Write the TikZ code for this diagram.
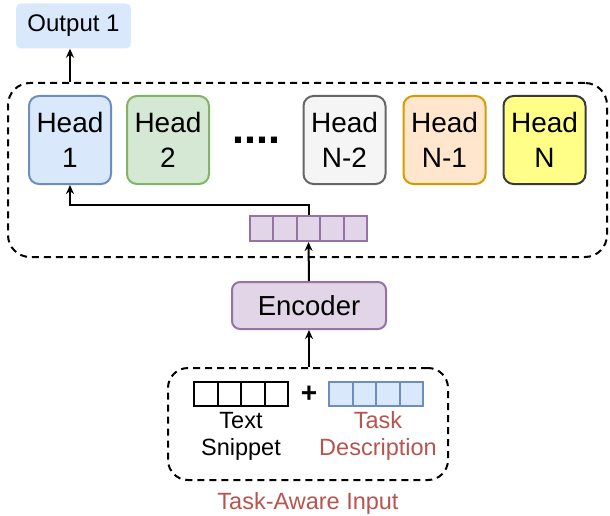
\documentclass[tikz,border=0pt]{standalone}
\usepackage{fontspec}
\setmainfont{Liberation Sans}
\usetikzlibrary{arrows.meta}
\definecolor{bluef}{HTML}{DAE8FC}\definecolor{blues}{HTML}{6C8EBF}
\definecolor{greenf}{HTML}{D5E8D4}\definecolor{greens}{HTML}{82B366}
\definecolor{grayf}{HTML}{F5F5F5}\definecolor{grays}{HTML}{666666}
\definecolor{orangef}{HTML}{FFE6CC}\definecolor{oranges}{HTML}{D79B00}
\definecolor{yellowf}{HTML}{FFFF88}\definecolor{yellows}{HTML}{36393D}
\definecolor{purplef}{HTML}{E1D5E7}\definecolor{purples}{HTML}{9673A6}
\definecolor{redtext}{HTML}{B85450}
\begin{document}
\begin{tikzpicture}[x=1pt,y=-1pt,
  headbox/.style={draw, line width=2pt, rounded corners=10pt, minimum width=82pt, minimum height=88pt, align=center, inner sep=0pt, font=\fontsize{28}{35}\selectfont},
  dashbox/.style={draw, line width=2pt, dash pattern=on 7pt off 5pt, rounded corners=22pt, inner sep=0pt},
  vcell/.style={draw=purples, fill=purplef, line width=2pt, minimum width=23.4pt, minimum height=25pt, inner sep=0pt},
  tcell/.style={draw=black, line width=2pt, minimum width=23.5pt, minimum height=24pt, inner sep=0pt},
  dcell/.style={draw=blues, fill=bluef, line width=2pt, minimum width=23.5pt, minimum height=24pt, inner sep=0pt},
  arr/.style={line width=2pt, -{Stealth[length=9pt,width=8pt]}},
  lbl/.style={font=\fontsize{23.5}{27}\selectfont, align=center, inner sep=0pt}
]
\useasboundingbox (0,0) rectangle (610,516);
% outer dashed container
\node[dashbox, minimum width=599pt, minimum height=174pt] (outer) at (307.5,170) {};
% output
\node[fill=bluef, rounded corners=5pt, minimum width=115pt, minimum height=45pt, inner sep=0pt, font=\fontsize{24}{28}\selectfont] (out) at (73.5,26) {Output 1};
% heads
\node[headbox, draw=blues, fill=bluef] (h1) at (70,140) {Head\\1};
\node[headbox, draw=greens, fill=greenf] (h2) at (168,140) {Head\\2};
\node[headbox, draw=grays, fill=grayf] (hn2) at (344.5,140) {Head\\N-2};
\node[headbox, draw=oranges, fill=orangef] (hn1) at (444.5,140) {Head\\N-1};
\node[headbox, draw=yellows, fill=yellowf] (hn) at (544.5,140) {Head\\N};
\node[font=\fontsize{43}{43}\selectfont\bfseries, anchor=base, inner sep=0pt] (dots) at (256.5,143) {....};
% vector
\node[vcell] (v1) at (261.7,228.5) {};
\node[vcell] (v2) at (285.1,228.5) {};
\node[vcell] (v3) at (308.5,228.5) {};
\node[vcell] (v4) at (331.9,228.5) {};
\node[vcell] (v5) at (355.3,228.5) {};
% encoder
\node[draw=purples, fill=purplef, line width=2pt, rounded corners=8pt, minimum width=154pt, minimum height=47pt, inner sep=0pt, font=\fontsize{27.5}{30}\selectfont] (enc) at (309,305.5) {Encoder};
% input container
\node[dashbox, rounded corners=20pt, minimum width=280pt, minimum height=112pt] (inp) at (308,424) {};
\node[tcell] (t1) at (205.75,394) {};
\node[tcell] (t2) at (229.25,394) {};
\node[tcell] (t3) at (252.75,394) {};
\node[tcell] (t4) at (276.25,394) {};
\node[font=\fontsize{28}{28}\selectfont\bfseries, inner sep=0pt] (plus) at (309,394) {+};
\node[dcell] (d1) at (340.75,394) {};
\node[dcell] (d2) at (364.25,394) {};
\node[dcell] (d3) at (387.75,394) {};
\node[dcell] (d4) at (411.25,394) {};
\node[lbl] (snip) at (241,436) {Text\\Snippet};
\node[lbl, text=redtext] (desc) at (378,436) {Task\\Description};
\node[lbl, text=redtext] (tai) at (308,503) {Task-Aware Input};
% connectors
\coordinate (bend) at (0,205);
\draw[arr] (enc.south |- inp.north) -- (enc.south);
\draw[arr] (enc.north) -- (v3.south);
\draw[arr] (v3.north) -- (v3.north |- bend) -| (h1.south);
\draw[arr] (h1.north |- outer.north) -- (h1.north |- out.south);
\end{tikzpicture}
\end{document}
